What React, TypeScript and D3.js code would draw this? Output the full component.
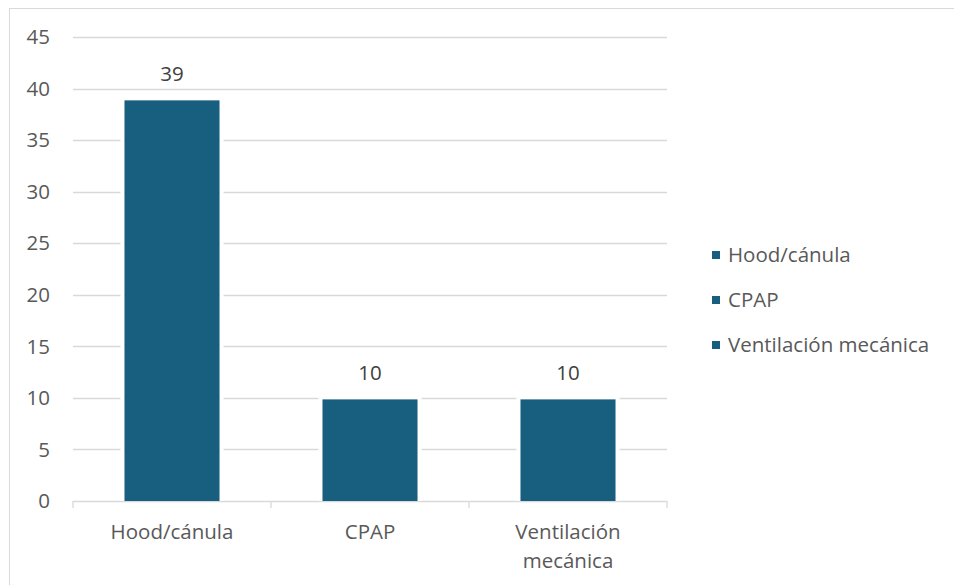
import React, { useEffect, useRef } from 'react';
import * as d3 from 'd3';

const categories = ['Hood/cánula', 'CPAP', 'Ventilación mecánica'];
const categoryLines = [['Hood/cánula'], ['CPAP'], ['Ventilación', 'mecánica']];
const values = [39, 10, 10];
const yTicks = [0, 5, 10, 15, 20, 25, 30, 35, 40, 45];

const W = 954;
const H = 585;
const BAR = '#175e7f';
const GRID = '#d9d9d9';
const TEXT = '#595959';
const FONT = "'Open Sans', 'Noto Sans', sans-serif";
const FS = '20.5px';

export default function App() {
  const svgRef = useRef<SVGSVGElement>(null);

  useEffect(() => {
    const svg = d3.select(svgRef.current);
    svg.selectAll('*').remove();

    const plot = { left: 73, right: 667, top: 37, bottom: 501 };

    // outer chart border (clipped by the window on right/bottom)
    svg.append('rect')
      .attr('x', 9.5).attr('y', 8.5)
      .attr('width', W + 20).attr('height', H + 20)
      .attr('fill', '#fff').attr('stroke', GRID).attr('stroke-width', 1);

    const x = d3.scaleBand<string>()
      .domain(categories)
      .range([plot.left, plot.right])
      .paddingInner(0.52)
      .paddingOuter(0.26);

    const y = d3.scaleLinear().domain([0, 45]).range([plot.bottom, plot.top]);

    const g = svg.append('g');

    // gridlines
    g.selectAll('line.grid')
      .data(yTicks.filter(t => t > 0))
      .join('line')
      .attr('x1', plot.left).attr('x2', plot.right)
      .attr('y1', d => Math.round(y(d)) + 0.5).attr('y2', d => Math.round(y(d)) + 0.5)
      .attr('stroke', GRID).attr('stroke-width', 1.3);

    // y tick labels
    g.selectAll('text.ytick')
      .data(yTicks)
      .join('text')
      .attr('x', 50).attr('y', d => y(d))
      .attr('dy', '0.35em')
      .attr('text-anchor', 'end')
      .style('font-family', FONT).style('font-size', FS)
      .attr('fill', TEXT)
      .text(d => d);

    // x axis baseline + ticks
    g.append('line')
      .attr('x1', plot.left).attr('x2', plot.right)
      .attr('y1', plot.bottom + 0.5).attr('y2', plot.bottom + 0.5)
      .attr('stroke', GRID).attr('stroke-width', 1.3);
    const bandStep = (plot.right - plot.left) / categories.length;
    g.selectAll('line.xtick')
      .data(d3.range(categories.length + 1))
      .join('line')
      .attr('x1', i => plot.left + i * bandStep).attr('x2', i => plot.left + i * bandStep)
      .attr('y1', plot.bottom).attr('y2', plot.bottom + 7)
      .attr('stroke', GRID).attr('stroke-width', 1.3);

    // bars with white halo
    categories.forEach((c, i) => {
      const bx = x(c)!;
      const by = y(values[i]) + 1.5;
      g.append('rect')
        .attr('x', bx - 4).attr('y', by - 4)
        .attr('width', x.bandwidth() + 8).attr('height', plot.bottom - by + 4)
        .attr('fill', '#fff');
      g.append('rect')
        .attr('x', bx).attr('y', by)
        .attr('width', x.bandwidth()).attr('height', plot.bottom - by)
        .attr('fill', BAR);
      g.append('text')
        .attr('x', bx + x.bandwidth() / 2).attr('y', by - 27)
        .attr('dy', '0.35em')
        .attr('text-anchor', 'middle')
        .style('font-family', FONT).style('font-size', FS)
        .attr('fill', '#404040')
        .text(values[i]);

      const lines = categoryLines[i];
      lines.forEach((ln, j) => {
        g.append('text')
          .attr('x', plot.left + (i + 0.5) * bandStep)
          .attr('y', 532 + j * 29)
          .attr('dy', '0.35em')
          .attr('text-anchor', 'middle')
          .style('font-family', FONT).style('font-size', FS)
          .attr('fill', TEXT)
          .text(ln);
      });
    });

    // legend
    const legend = svg.append('g').attr('transform', 'translate(712,255)');
    categories.forEach((c, i) => {
      const row = legend.append('g').attr('transform', `translate(0,${i * 45})`);
      row.append('rect')
        .attr('x', 0).attr('y', -4)
        .attr('width', 8).attr('height', 8)
        .attr('fill', BAR);
      row.append('text')
        .attr('x', 16).attr('y', 0)
        .attr('dy', '0.35em')
        .style('font-family', FONT).style('font-size', FS)
        .attr('fill', TEXT)
        .text(c);
    });
  }, []);

  return (
    <svg
      ref={svgRef}
      width={W}
      height={H}
      style={{ position: 'absolute', left: 0, top: 0, background: '#fff' }}
    />
  );
}
